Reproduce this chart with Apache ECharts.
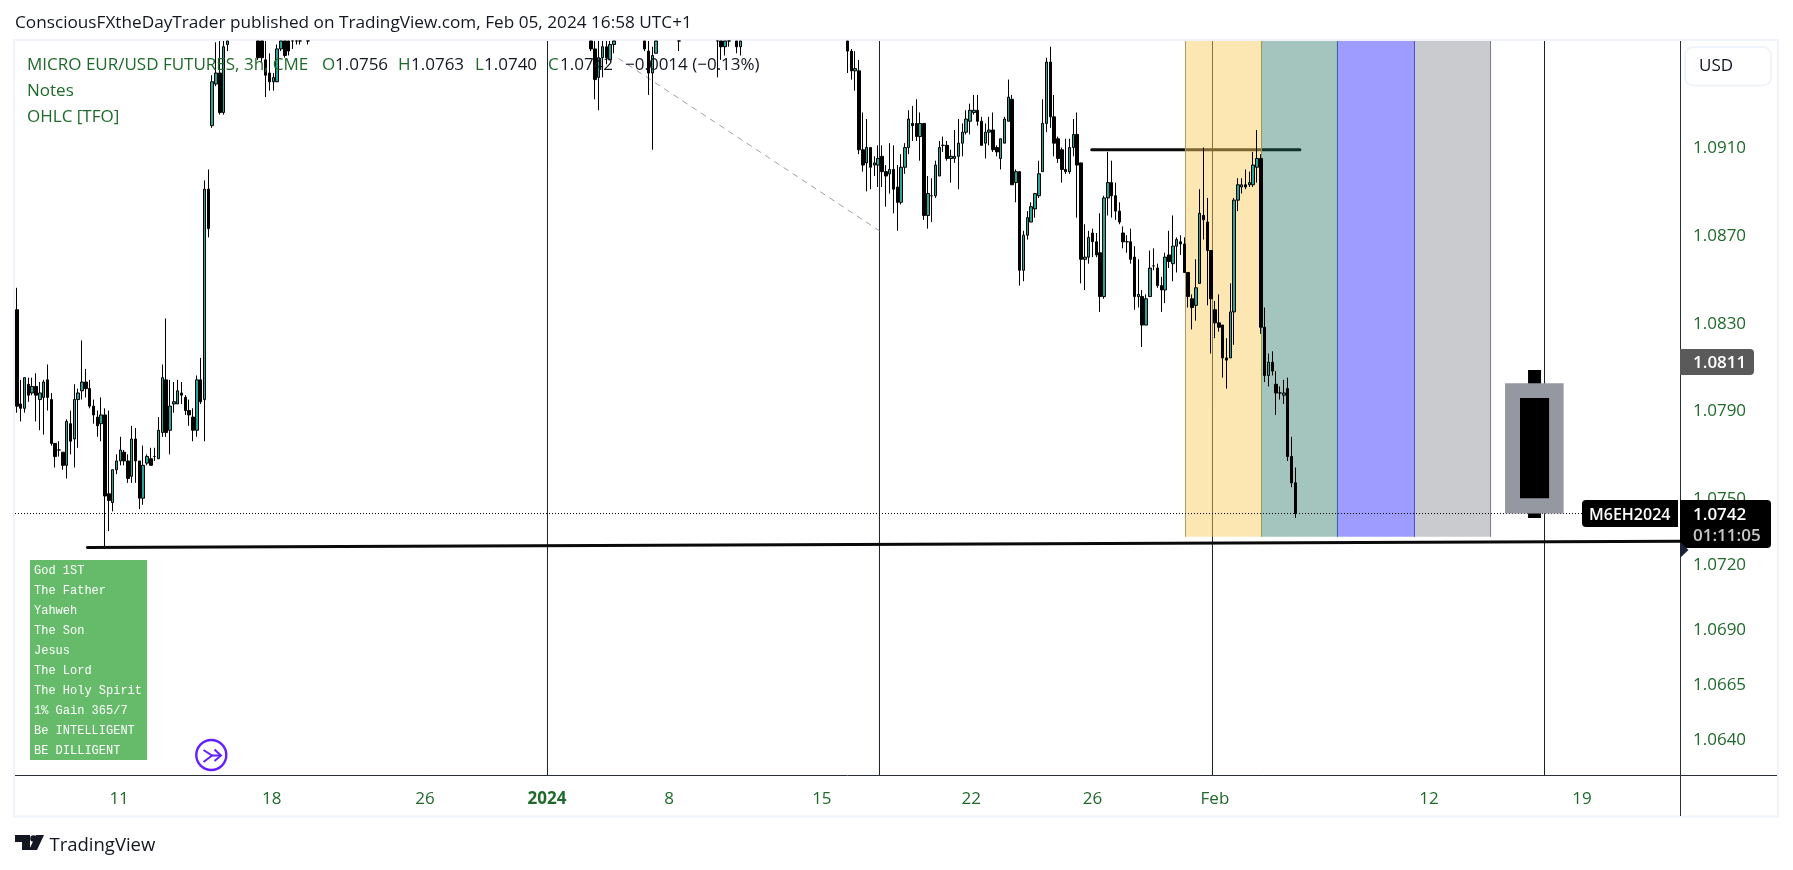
<!DOCTYPE html>
<html><head><meta charset="utf-8">
<style>html,body{margin:0;padding:0;background:#fff}#c{width:1793px;height:870px}</style>
<script src="https://cdn.jsdelivr.net/npm/echarts@6/dist/echarts.min.js"></script>
</head><body><div id="c"></div>
<script>
const barIdx=[0,1,2,3,4,5,6,7,8,9,10,11,12,13,14,15,16,17,18,19,20,21,22,23,24,25,26,27,28,29,30,31,32,33,34,35,36,37,38,39,40,41,42,43,44,45,46,47,48,49,50,51,52,53,54,55,
63,64,65,66,67,68,69,70,71,72,73,74,76,
150,151,152,153,154,155,156,164,165,166,167,173,183,184,185,186,188,189,
217,218,219,220,221,222,223,224,225,226,227,228,229,230,231,232,233,234,235,236,237,238,239,240,241,242,243,244,245,246,247,248,249,250,251,252,253,254,255,256,257,258,259,260,261,262,263,264,265,266,267,268,269,270,271,272,273,274,275,276,277,278,279,280,281,282,283,284,285,286,287,288,289,290,291,292,293,294,295,296,297,298,299,300,301,302,303,304,305,306,307,308,309,310,311,312,313,314,315,316,317,318,319,320,321,322,323,324,325,326,327,328,329,330,331,332,333,334];
const opens=[1.0835,1.0792,1.0790,1.0801,1.0797,1.0800,1.0794,1.0795,1.0803,1.0794,1.0774,1.0771,1.0770,1.0764,1.0783,1.0776,1.0794,1.0798,1.0802,1.0799,1.0791,1.0786,1.0783,1.0787,1.0751,1.0747,1.0762,1.0766,1.0770,1.0766,1.0759,1.0776,1.0766,1.0749,1.0765,1.0767,1.0768,1.0767,1.0779,1.0803,1.0780,1.0792,1.0792,1.0797,1.0795,1.0789,1.0786,1.0780,1.0803,1.0794,1.0890,1.0919,1.0938,1.0943,1.0925,1.0956,
1.0975,1.0970,1.0949,1.0943,1.0939,1.0939,1.0954,1.0965,1.0962,1.0968,1.0970,1.0972,1.0975,
1.0965,1.0954,1.0941,1.0950,1.0955,1.0949,1.0956,1.0965,1.0953,1.0943,1.0952,1.0970,1.0968,1.0965,1.0955,1.0965,1.0965,1.0955,
1.0960,1.0953,1.0944,1.0944,1.0908,1.0902,1.0909,1.0901,1.0901,1.0905,1.0898,1.0897,1.0899,1.0891,1.0884,1.0900,1.0909,1.0920,1.0920,1.0914,1.0920,1.0878,1.0887,1.0887,1.0896,1.0910,1.0910,1.0904,1.0904,1.0905,1.0911,1.0916,1.0921,1.0925,1.0926,1.0921,1.0911,1.0916,1.0917,1.0909,1.0904,1.0911,1.0921,1.0931,1.0893,1.0898,1.0853,1.0869,1.0875,1.0881,1.0887,1.0898,1.0920,1.0948,1.0923,1.0913,1.0908,1.0899,1.0898,1.0909,1.0915,1.0902,1.0858,1.0859,1.0870,1.0866,1.0861,1.0841,1.0886,1.0893,1.0887,1.0880,1.0870,1.0866,1.0866,1.0859,1.0841,1.0841,1.0828,1.0841,1.0855,1.0854,1.0846,1.0844,1.0860,1.0856,1.0864,1.0866,1.0865,1.0852,1.0840,1.0837,1.0847,1.0878,1.0875,1.0862,1.0835,1.0829,1.0828,1.0813,1.0813,1.0834,1.0885,1.0891,1.0892,1.0892,1.0892,1.0900,1.0904,1.0827,1.0805,1.0811,1.0801,1.0797,1.0796,1.0799,1.0768,1.0756];
const highs=[1.0845,1.0803,1.0804,1.0804,1.0804,1.0806,1.0802,1.0803,1.0810,1.0797,1.0774,1.0775,1.0770,1.0785,1.0789,1.0801,1.0799,1.0821,1.0808,1.0803,1.0794,1.0789,1.0795,1.0790,1.0789,1.0762,1.0769,1.0777,1.0771,1.0769,1.0782,1.0781,1.0766,1.0773,1.0769,1.0772,1.0772,1.0786,1.0810,1.0831,1.0803,1.0802,1.0803,1.0802,1.0796,1.0794,1.0790,1.0805,1.0813,1.0894,1.0899,1.0942,1.0957,1.0960,1.0961,1.0965,
1.0980,1.0975,1.0965,1.0952,1.0943,1.0956,1.0965,1.0970,1.0968,1.0975,1.0975,1.0978,1.0980,
1.0970,1.0960,1.0960,1.0960,1.0960,1.0960,1.0965,1.0970,1.0960,1.0955,1.0965,1.0975,1.0972,1.0970,1.0968,1.0975,1.0970,1.0968,
1.0965,1.0954,1.0953,1.0949,1.0925,1.0922,1.0909,1.0905,1.0910,1.0910,1.0901,1.0911,1.0910,1.0901,1.0906,1.0911,1.0926,1.0928,1.0931,1.0925,1.0920,1.0896,1.0895,1.0903,1.0912,1.0914,1.0912,1.0908,1.0917,1.0922,1.0920,1.0926,1.0929,1.0933,1.0933,1.0923,1.0920,1.0923,1.0925,1.0910,1.0913,1.0923,1.0940,1.0933,1.0899,1.0898,1.0871,1.0880,1.0884,1.0888,1.0903,1.0931,1.0950,1.0955,1.0933,1.0914,1.0909,1.0913,1.0913,1.0922,1.0925,1.0902,1.0874,1.0871,1.0872,1.0870,1.0879,1.0887,1.0907,1.0903,1.0893,1.0884,1.0873,1.0869,1.0872,1.0864,1.0858,1.0844,1.0842,1.0862,1.0863,1.0856,1.0850,1.0861,1.0871,1.0878,1.0868,1.0869,1.0868,1.0852,1.0842,1.0858,1.0890,1.0909,1.0886,1.0862,1.0839,1.0842,1.0828,1.0822,1.0847,1.0886,1.0895,1.0895,1.0899,1.0898,1.0907,1.0917,1.0906,1.0836,1.0815,1.0816,1.0807,1.0800,1.0803,1.0804,1.0777,1.0763];
const lows=[1.0788,1.0784,1.0788,1.0793,1.0796,1.0784,1.0780,1.0778,1.0789,1.0773,1.0763,1.0768,1.0762,1.0758,1.0769,1.0763,1.0772,1.0794,1.0795,1.0790,1.0783,1.0777,1.0775,1.0727,1.0734,1.0743,1.0760,1.0764,1.0764,1.0756,1.0756,1.0756,1.0744,1.0746,1.0764,1.0764,1.0766,1.0767,1.0777,1.0777,1.0769,1.0788,1.0792,1.0792,1.0787,1.0782,1.0775,1.0777,1.0792,1.0775,1.0868,1.0918,1.0937,1.0924,1.0924,1.0953,
1.0949,1.0948,1.0932,1.0935,1.0935,1.0939,1.0953,1.0950,1.0951,1.0954,1.0956,1.0956,1.0956,
1.0953,1.0931,1.0926,1.0941,1.0947,1.0949,1.0952,1.0953,1.0933,1.0908,1.0952,1.0953,1.0941,1.0949,1.0951,1.0955,1.0952,1.0951,
1.0943,1.0940,1.0935,1.0906,1.0898,1.0889,1.0890,1.0896,1.0891,1.0891,1.0882,1.0888,1.0879,1.0871,1.0883,1.0897,1.0906,1.0912,1.0912,1.0903,1.0876,1.0872,1.0875,1.0886,1.0896,1.0907,1.0903,1.0893,1.0902,1.0890,1.0905,1.0915,1.0915,1.0924,1.0919,1.0910,1.0904,1.0910,1.0907,1.0905,1.0899,1.0911,1.0921,1.0892,1.0884,1.0846,1.0848,1.0867,1.0875,1.0877,1.0886,1.0898,1.0916,1.0918,1.0905,1.0902,1.0893,1.0897,1.0897,1.0905,1.0877,1.0847,1.0844,1.0856,1.0859,1.0859,1.0834,1.0840,1.0878,1.0877,1.0876,1.0874,1.0863,1.0861,1.0856,1.0835,1.0836,1.0818,1.0828,1.0841,1.0853,1.0845,1.0834,1.0838,1.0854,1.0848,1.0852,1.0860,1.0852,1.0836,1.0826,1.0830,1.0847,1.0867,1.0837,1.0815,1.0822,1.0825,1.0804,1.0799,1.0813,1.0819,1.0880,1.0888,1.0890,1.0891,1.0891,1.0893,1.0824,1.0802,1.0800,1.0805,1.0787,1.0794,1.0792,1.0766,1.0754,1.0740];
const closes=[1.0791,1.0790,1.0804,1.0796,1.0800,1.0796,1.0797,1.0802,1.0795,1.0774,1.0768,1.0771,1.0764,1.0784,1.0775,1.0794,1.0797,1.0802,1.0799,1.0791,1.0787,1.0782,1.0787,1.0750,1.0748,1.0762,1.0766,1.0771,1.0766,1.0758,1.0776,1.0766,1.0749,1.0764,1.0768,1.0764,1.0768,1.0780,1.0804,1.0779,1.0791,1.0793,1.0798,1.0796,1.0789,1.0787,1.0780,1.0803,1.0793,1.0890,1.0872,1.0939,1.0943,1.0925,1.0955,1.0958,
1.0950,1.0950,1.0942,1.0939,1.0941,1.0954,1.0962,1.0951,1.0953,1.0964,1.0966,1.0968,1.0970,
1.0954,1.0940,1.0950,1.0955,1.0950,1.0956,1.0959,1.0954,1.0943,1.0951,1.0960,1.0965,1.0962,1.0955,1.0962,1.0968,1.0955,1.0964,
1.0953,1.0944,1.0945,1.0908,1.0901,1.0909,1.0900,1.0902,1.0904,1.0898,1.0896,1.0899,1.0890,1.0884,1.0900,1.0909,1.0922,1.0919,1.0914,1.0920,1.0878,1.0888,1.0887,1.0901,1.0909,1.0910,1.0904,1.0905,1.0905,1.0911,1.0916,1.0922,1.0926,1.0926,1.0921,1.0910,1.0916,1.0917,1.0908,1.0907,1.0913,1.0922,1.0932,1.0892,1.0898,1.0853,1.0869,1.0877,1.0882,1.0888,1.0897,1.0920,1.0948,1.0923,1.0911,1.0904,1.0899,1.0898,1.0909,1.0915,1.0901,1.0858,1.0859,1.0868,1.0866,1.0860,1.0841,1.0886,1.0893,1.0887,1.0880,1.0875,1.0866,1.0866,1.0858,1.0841,1.0842,1.0828,1.0840,1.0854,1.0855,1.0846,1.0844,1.0859,1.0857,1.0864,1.0867,1.0865,1.0852,1.0841,1.0836,1.0845,1.0879,1.0876,1.0862,1.0840,1.0829,1.0827,1.0813,1.0812,1.0834,1.0885,1.0892,1.0892,1.0891,1.0893,1.0901,1.0904,1.0827,1.0805,1.0811,1.0807,1.0797,1.0797,1.0797,1.0768,1.0756,1.0742];

const BAR_SLOTS=435, X_MIN=-0.5, X_MAX=434.5, Y_MIN=1.095761, Y_MAX_LOW=1.06227;
const priceTicks=[1.0910,1.0870,1.0830,1.0790,1.0750,1.0720,1.0690,1.0665,1.0640];
const dateTickBars=[26.7,66.6,106.6,138.5,170.4,210.3,249.3,281,313,368.9,408.9];
const dateTickLabels=['11','18','26','2024','8','15','22','26','Feb','12','19'];
const periodLineBars=[138.62,225.36,312.36,399.1];
const bandEdgeBars=[305.3,325.16,345,365.13,385];
const bandFills=['rgba(249,203,92,.48)','rgba(25,110,92,.4)','rgba(61,59,255,.5)','rgba(149,151,159,.5)'];
const bandEdgeColors=['#a89a70','#b5a64f','#2c6f80','#3030ee','#787b86'];
const bandLowPrice=1.07314;
const lowTrend=[[18.4,1.07265],[434.5,1.07294]];
const highTrend=[[280.8,1.0908],[335.2,1.0908]];
const dashTrend=[[157.1,1.09497],[225.36,1.0871]];
const lastPrice=1.0742, lastPriceEndBar=408.9;
// OHLC [TFO] box : bar from, bar to, low, high
const tfoRange=[388.8,404.1,1.0742,1.08015];
const tfoBody=[392.7,400.3,1.07490,1.07947];
const tfoWick=[394.8,398.2,1.0740,1.08075];

const chart=echarts.init(document.getElementById('c'),null,{renderer:'canvas'});
const GREEN='#1f6a2b', INK='#131722', FONT='"Open Sans"';
const clampTop=v=>Math.min(v,Y_MIN);
function lineS(name,data,style,z){return {name,type:'line',xAxisIndex:1,yAxisIndex:0,data,symbol:'none',silent:true,animation:false,z:z||2,lineStyle:style,clip:true}}
function txt(x,y,s,fill,size,weight){return {type:'text',x,y:y+1,z:50,silent:true,style:{text:s,fill,font:(weight?weight+' ':'')+(size||17)+'px '+FONT,textAlign:'left',textVerticalAlign:'middle'}}}
function rect(x,y,w,h,fill,r,stroke){return {type:'rect',z:45,silent:true,shape:{x,y,width:w,height:h,r:r||0},style:{fill:fill,stroke:stroke||null,lineWidth:stroke?2:0}}}
const verses=['God 1ST','The Father','Yahweh','The Son','Jesus','The Lord','The Holy Spirit','1% Gain 365/7','Be INTELLIGENT','BE DILLIGENT'];
const gfx=[
 {type:'rect',z:1,silent:true,shape:{x:14,y:40,width:1764,height:776.5},style:{fill:null,stroke:'#f0f3fa',lineWidth:2}},
 {type:'line',z:44,silent:true,shape:{x1:1680.5,y1:775,x2:1680.5,y2:816},style:{stroke:'#2a2e39',lineWidth:1}},
 {type:'line',z:44,silent:true,shape:{x1:1680,y1:775.5,x2:1777,y2:775.5},style:{stroke:'#2a2e39',lineWidth:1}},
 txt(15,22,'ConsciousFXtheDayTrader published on TradingView.com, Feb 05, 2024 16:58 UTC+1',INK,17.2),
 txt(27,64,'MICRO EUR/USD FUTURES, 3h, CME',GREEN),
 txt(322,64,'O',GREEN),txt(335,64,'1.0756',INK),
 txt(398,64,'H',GREEN),txt(411,64,'1.0763',INK),
 txt(475,64,'L',GREEN),txt(484,64,'1.0740',INK),
 txt(548,64,'C',GREEN),txt(560,64,'1.0742',INK),
 txt(625,64,'−0.0014 (−0.13%)',INK),
 txt(27,90,'Notes',GREEN),
 txt(27,116,'OHLC [TFO]',GREEN),
 rect(1685,47,86,38.5,'#fff',8,'#f0f3fa'),
 txt(1699,65.5,'USD',INK),
 rect(1680,349,74,26,'#5a5a5a',[0,4,4,0]),
 txt(1693,362.5,'1.0811','#fff',17,600),
 rect(1582,500,96,27,'#000',[4,0,0,4]),
 txt(1589,514,'M6EH2024','#fff',16,600),
 rect(1680,500,91,48,'#000',[0,4,4,0]),
 txt(1693,514,'1.0742','#fff',17,600),
 txt(1693,535,'01:11:05','#c8c8c8',17,600),
 {type:'polygon',z:46,silent:true,shape:{points:[[1680,542],[1688.5,550],[1680,558]]},style:{fill:'#1b2238'}},
 rect(30,560,117,200,'#66bb6a'),
 ...verses.map((s,i)=>({type:'text',x:34,y:571+i*20,z:50,silent:true,style:{text:s,fill:'#fff',font:'12px "Liberation Mono"',textAlign:'left',textVerticalAlign:'middle'}})),
 {type:'circle',z:46,silent:true,shape:{cx:211.3,cy:755,r:15},style:{fill:'#fff',stroke:'#651fff',lineWidth:2.4}},
 {type:'polyline',z:47,silent:true,shape:{points:[[203.5,750],[212,755.5],[203.5,762]]},style:{fill:null,stroke:'#651fff',lineWidth:2}},
 {type:'polyline',z:47,silent:true,shape:{points:[[212,755.5],[221,755.5]]},style:{fill:null,stroke:'#651fff',lineWidth:2}},
 {type:'polyline',z:47,silent:true,shape:{points:[[214.5,749.5],[221,755.5],[214.5,761]]},style:{fill:null,stroke:'#651fff',lineWidth:2}},
 {type:'polygon',z:47,silent:true,shape:{points:[[15,835],[30,835],[30,850],[22,850],[22,842],[15,842]]},style:{fill:INK}},
 {type:'polygon',z:47,silent:true,shape:{points:[[36,835],[44,835],[37,850],[29,850]]},style:{fill:INK}},
 {type:'circle',z:47,silent:true,shape:{cx:33.5,cy:838.5,r:3.3},style:{fill:INK}},
 txt(49.5,844.5,'TradingView',INK,18.5),
];
const bandRows=bandFills.map((f,i)=>[bandEdgeBars[i],bandEdgeBars[i+1],bandLowPrice,Y_MIN,i]);
const boxRows=[[...tfoWick,'#000'],[...tfoRange,'#9598a1'],[...tfoBody,'#000']];
chart.setOption({
 animation:false,backgroundColor:'#fff',
 grid:{left:15,top:41,right:113,bottom:95,containLabel:false},
 xAxis:[
  {type:'category',position:'bottom',data:Array.from({length:BAR_SLOTS},(_,i)=>i),boundaryGap:true,axisLine:{show:true,onZero:false,lineStyle:{color:'#2a2e39',width:1}},axisTick:{show:false},axisLabel:{show:false},splitLine:{show:false}},
  {type:'value',position:'bottom',min:X_MIN,max:X_MAX,axisLine:{show:false,onZero:false},axisTick:{show:false},splitLine:{show:false},
   axisLabel:{show:true,customValues:dateTickBars,color:GREEN,fontSize:17,fontFamily:FONT,margin:16,hideOverlap:false,
    formatter:v=>{const i=dateTickBars.indexOf(v);const s=dateTickLabels[i];return s==='2024'?'{b|2024}':s},
    rich:{b:{fontWeight:'bold',fontSize:17,fontFamily:FONT,color:GREEN}}}}
 ],
 yAxis:[{type:'value',position:'right',min:Y_MAX_LOW,max:Y_MIN,scale:true,splitLine:{show:false},axisTick:{show:false},
   axisLine:{show:true,onZero:false,lineStyle:{color:'#2a2e39',width:1}},
   axisLabel:{customValues:priceTicks,color:GREEN,fontSize:17,fontFamily:FONT,margin:13,verticalAlign:'top',lineHeight:6,formatter:v=>v.toFixed(4)}}],
 series:[
  ...periodLineBars.map((b,i)=>lineS('period'+i,[[b,Y_MAX_LOW],[b,Y_MIN]],{color:'#1c202b',width:1},2)),
  lineS('lowTrend',lowTrend,{color:'#0a0a0a',width:3,cap:'round'},2),
  lineS('highTrend',highTrend,{color:'#0a0a0a',width:3,cap:'round'},2),
  lineS('dashTrend',dashTrend,{color:'#a0a0a0',width:1,type:[6,5]},2),
  {name:'bands',type:'custom',xAxisIndex:1,yAxisIndex:0,silent:true,z:3,clip:true,data:bandRows,
   renderItem:(p,api)=>{
    const a=api.coord([api.value(0),api.value(3)]),b=api.coord([api.value(1),api.value(2)]),i=api.value(4);
    const kids=[{type:'rect',shape:{x:a[0],y:a[1],width:b[0]-a[0],height:b[1]-a[1]},style:{fill:bandFills[i]}},
     {type:'line',shape:{x1:b[0],y1:a[1],x2:b[0],y2:b[1]},style:{stroke:bandEdgeColors[i+1],lineWidth:1}}];
    if(i===0)kids.push({type:'line',shape:{x1:a[0],y1:a[1],x2:a[0],y2:b[1]},style:{stroke:bandEdgeColors[0],lineWidth:1}});
    return {type:'group',children:kids};
   }},
  lineS('lastPrice',[[X_MIN,lastPrice],[lastPriceEndBar,lastPrice]],{color:'#000',width:1,type:[1,2]},4),
  {name:'M6E',type:'candlestick',xAxisIndex:0,yAxisIndex:0,z:5,clip:true,barWidth:3,silent:true,
   itemStyle:{color:'#26a69a',color0:'#000',borderColor:'#000',borderColor0:'#000',borderWidth:1},
   encode:{x:0,y:[1,2,3,4]},
   data:barIdx.map((b,i)=>[b,clampTop(opens[i]),clampTop(closes[i]),clampTop(lows[i]),clampTop(highs[i])])},
  {name:'tfo',type:'custom',xAxisIndex:1,yAxisIndex:0,silent:true,z:6,clip:true,data:boxRows,
   renderItem:(p,api)=>{
    const a=api.coord([api.value(0),api.value(3)]),b=api.coord([api.value(1),api.value(2)]);
    return {type:'rect',shape:{x:a[0],y:a[1],width:b[0]-a[0],height:b[1]-a[1]},style:{fill:boxRows[p.dataIndex][4]}};
   }}
 ],
 graphic:gfx
});
</script></body></html>
